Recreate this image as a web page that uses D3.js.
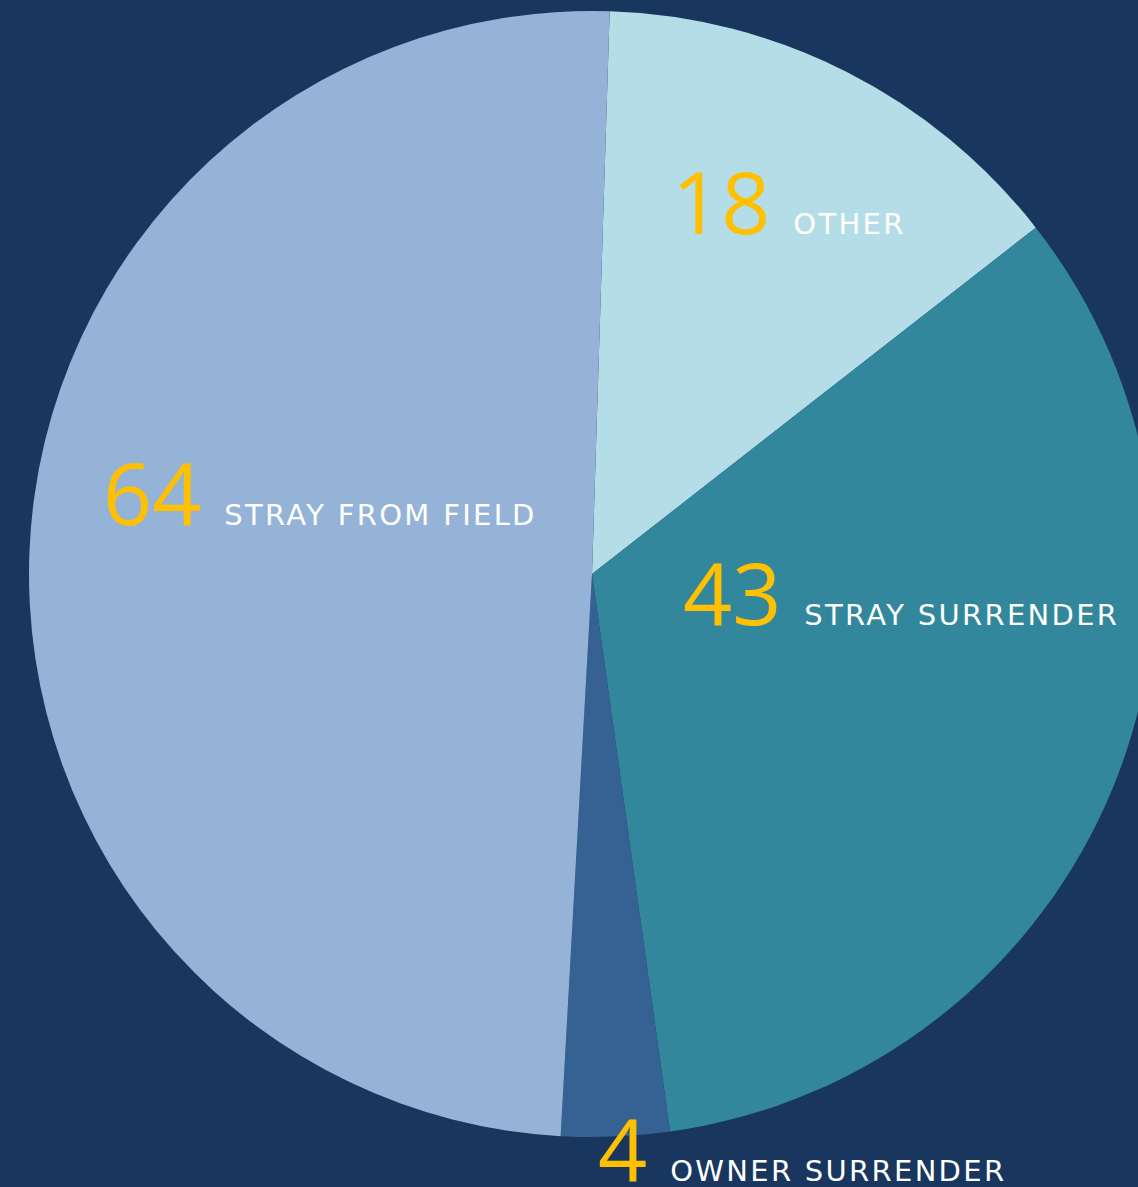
<!DOCTYPE html>
<html>
<head>
<meta charset="utf-8">
<script src="https://cdn.jsdelivr.net/npm/d3@7"></script>
<style>
  html, body { margin: 0; padding: 0; background: #18365e; overflow: hidden; }
  svg { display: block; }
</style>
</head>
<body>
<div id="chart"></div>
<script>
// data, in drawing order (clockwise from just right of 12 o'clock)
const categories = ["OTHER", "STRAY SURRENDER", "OWNER SURRENDER", "STRAY FROM FIELD"];
const counts = [18, 43, 4, 64];
const sliceColors = ["#b5dde7", "#32879d", "#366193", "#95b3d7"];

// label anchors relative to pie centre (left edge of number, baseline)
const labelOffsets = [[80, -340], [91, 51], [6, 607], [-489, -49]];

function drawPie() {
  const width = 1138, height = 1187;
  const cx = 592, cy = 574, radius = 563;

  const svg = d3.select("#chart").append("svg")
    .attr("width", width)
    .attr("height", height);

  svg.append("rect")
    .attr("width", width).attr("height", height)
    .attr("fill", "#18365e");

  const rows = categories.map((c, i) => ({ name: c, value: counts[i], color: sliceColors[i], off: labelOffsets[i] }));

  const start = 1.8 * Math.PI / 180;
  const pie = d3.pie()
    .sort(null)
    .value(d => d.value)
    .startAngle(start)
    .endAngle(start + 2 * Math.PI);

  const arc = d3.arc().innerRadius(0).outerRadius(radius);

  const g = svg.append("g").attr("transform", `translate(${cx},${cy})`);

  g.selectAll("path.slice")
    .data(pie(rows))
    .join("path")
    .attr("class", "slice")
    .attr("d", arc)
    .attr("fill", d => d.data.color);

  // labels: big yellow number then white category name
  const lab = g.selectAll("g.lab")
    .data(rows)
    .join("g")
    .attr("class", "lab")
    .attr("transform", d => `translate(${d.off[0]},${d.off[1]})`);

  lab.append("text")
    .attr("class", "num")
    .attr("x", 0).attr("y", 0)
    .attr("font-family", "'Open Sans', sans-serif")
    .attr("font-weight", 400)
    .attr("font-size", 86)
    .attr("fill", "#ffc000")
    .text(d => d.value);

  lab.append("text")
    .attr("class", "name")
    .attr("y", 0)
    .attr("font-family", "'DejaVu Sans', sans-serif")
    .attr("font-size", 29)
    .attr("letter-spacing", 2.3)
    .attr("fill", "#ffffff")
    .text(d => d.name)
    .attr("x", function() {
      const num = d3.select(this.parentNode).select("text.num").node();
      return num.getComputedTextLength() + 23;
    });
}

document.addEventListener("DOMContentLoaded", drawPie);
</script>
</body>
</html>
